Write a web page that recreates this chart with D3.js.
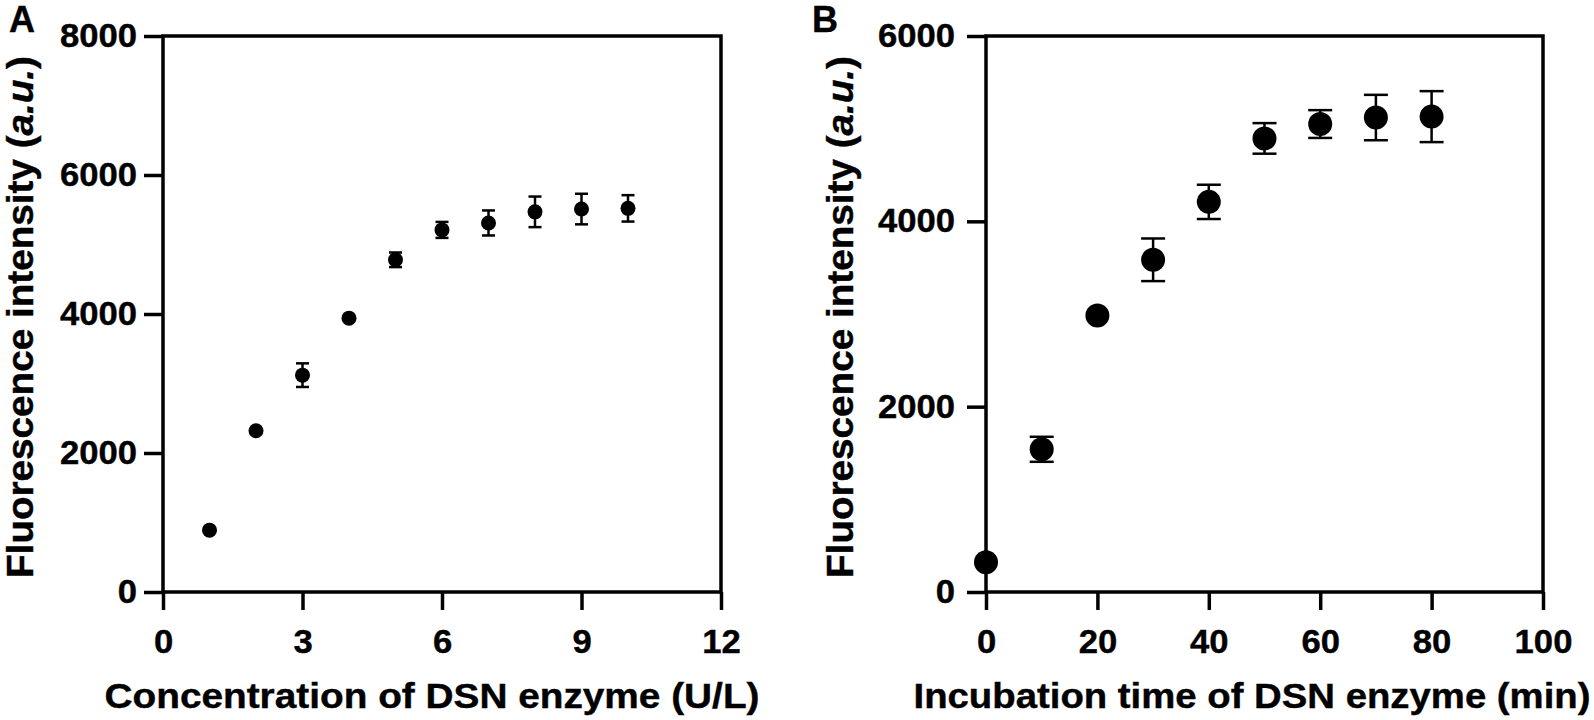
<!DOCTYPE html>
<html>
<head>
<meta charset="utf-8">
<script src="https://cdn.jsdelivr.net/npm/d3@7"></script>
<style>
  html, body { margin: 0; padding: 0; background: #fff; }
  svg { display: block; }
  text { font-family: "Liberation Sans", Arial, sans-serif; font-weight: bold; fill: #000; }
</style>
</head>
<body>
<svg id="chart" width="1594" height="720"></svg>
<script>
// ---- Data ----
const concA = [1, 2, 3, 4, 5, 6, 7, 8, 9, 10];
const fluorA = [890, 2320, 3120, 3940, 4780, 5210, 5310, 5470, 5510, 5520];
const errA = [0, 0, 170, 0, 105, 115, 180, 220, 220, 190];

const timeB = [0, 10, 20, 30, 40, 50, 60, 70, 80];
const fluorB = [320, 1540, 2985, 3585, 4210, 4895, 5050, 5120, 5130];
const errB = [0, 135, 0, 230, 185, 165, 150, 245, 275];

const xTicksA = [0, 3, 6, 9, 12];
const yTicksA = [0, 2000, 4000, 6000, 8000];
const xTicksB = [0, 20, 40, 60, 80, 100];
const yTicksB = [0, 2000, 4000, 6000];

const panelLabels = ["A", "B"];
const xTitles = ["Concentration of DSN enzyme (U/L)", "Incubation time of DSN enzyme (min)"];
const yTitleMain = "Fluorescence intensity (";
const yTitleItalic = "a.u.";
const yTitleEnd = ")";

// ---- Drawing ----
const svg = d3.select("#chart");

function panel(cfg) {
  const x = d3.scaleLinear().domain(cfg.xDomain).range([cfg.left, cfg.right]);
  const y = d3.scaleLinear().domain(cfg.yDomain).range([cfg.bottom, cfg.top]);
  const g = svg.append("g");
  const sw = 3.5;

  // frame (top and right)
  g.append("path")
    .attr("d", `M${cfg.left},${cfg.top}H${cfg.right}V${cfg.bottom}`)
    .attr("fill", "none").attr("stroke", "#000").attr("stroke-width", sw)
    .attr("stroke-linecap", "square");

  // x axis
  const xa = g.append("g").attr("transform", `translate(0,${cfg.bottom})`)
    .call(d3.axisBottom(x).tickValues(cfg.xTicks).tickSize(18).tickPadding(20).tickFormat(d3.format("d")));
  // y axis
  const ya = g.append("g").attr("transform", `translate(${cfg.left},0)`)
    .call(d3.axisLeft(y).tickValues(cfg.yTicks).tickSize(19).tickPadding(cfg.yPad).tickFormat(d3.format("d")));

  [xa, ya].forEach(a => {
    a.select(".domain").attr("stroke", "#000").attr("stroke-width", sw);
    a.selectAll(".tick line").attr("stroke", "#000").attr("stroke-width", sw);
    a.selectAll(".tick text").attr("font-size", 33).attr("fill", "#000")
      .attr("stroke", "#000").attr("stroke-width", 0.4)
      .style("font-family", '"Liberation Sans", Arial, sans-serif').style("font-weight", "bold");
  });
  [xa, ya].forEach(a => a.selectAll(".tick text").each(function () {
    const w = this.getComputedTextLength();
    d3.select(this).attr("textLength", w * 1.05).attr("lengthAdjust", "spacingAndGlyphs");
  }));
  ya.select(".domain").attr("d", `M0,${cfg.bottom}V${cfg.top}`);
  xa.select(".domain").attr("d", `M${cfg.left},0H${cfg.right}`);

  // error bars
  const data = cfg.xs.map((v, i) => ({ x: v, y: cfg.ys[i], e: cfg.es[i] }));
  const eb = g.append("g").selectAll("g").data(data.filter(d => d.e > 0)).join("g");
  eb.append("line")
    .attr("x1", d => x(d.x)).attr("x2", d => x(d.x))
    .attr("y1", d => y(d.y + d.e)).attr("y2", d => y(d.y - d.e))
    .attr("stroke", "#000").attr("stroke-width", 2.5);
  eb.append("line")
    .attr("x1", d => x(d.x) - cfg.cap / 2).attr("x2", d => x(d.x) + cfg.cap / 2)
    .attr("y1", d => y(d.y + d.e)).attr("y2", d => y(d.y + d.e))
    .attr("stroke", "#000").attr("stroke-width", 2.5);
  eb.append("line")
    .attr("x1", d => x(d.x) - cfg.cap / 2).attr("x2", d => x(d.x) + cfg.cap / 2)
    .attr("y1", d => y(d.y - d.e)).attr("y2", d => y(d.y - d.e))
    .attr("stroke", "#000").attr("stroke-width", 2.5);

  // points
  g.append("g").selectAll("circle").data(data).join("circle")
    .attr("cx", d => x(d.x)).attr("cy", d => y(d.y)).attr("r", cfg.r).attr("fill", "#000");

  // x title
  g.append("text")
    .attr("x", cfg.xTitleX).attr("y", 708)
    .attr("text-anchor", "middle").attr("font-size", 35)
    .attr("stroke", "#000").attr("stroke-width", 0.4)
    .attr("textLength", cfg.xTitleLen).attr("lengthAdjust", "spacingAndGlyphs")
    .text(cfg.xTitle);

  // y title
  const yt = g.append("text")
    .attr("transform", `translate(${cfg.yTitleX},${(cfg.top + cfg.bottom) / 2 + 3}) rotate(-90)`)
    .attr("text-anchor", "middle").attr("font-size", 36)
    .attr("stroke", "#000").attr("stroke-width", 0.4)
    .attr("textLength", 522).attr("lengthAdjust", "spacingAndGlyphs");
  yt.append("tspan").text(yTitleMain);
  yt.append("tspan").attr("font-style", "italic").text(yTitleItalic);
  yt.append("tspan").text(yTitleEnd);

  // panel label
  g.append("text").attr("x", cfg.labelX).attr("y", 32).attr("font-size", 36)
    .attr("stroke", "#000").attr("stroke-width", 0.4).text(cfg.label);
}

panel({
  xDomain: [0, 12], yDomain: [0, 8000], left: 163, right: 721, top: 36, bottom: 592,
  xTicks: xTicksA, yTicks: yTicksA, yPad: 7,
  xs: concA, ys: fluorA, es: errA, r: 7.5, cap: 13,
  xTitle: xTitles[0], xTitleX: 432, xTitleLen: 655, yTitleX: 33,
  label: panelLabels[0], labelX: 9
});
panel({
  xDomain: [0, 100], yDomain: [0, 6000], left: 986, right: 1543, top: 36, bottom: 592,
  xTicks: xTicksB, yTicks: yTicksB, yPad: 12,
  xs: timeB, ys: fluorB, es: errB, r: 12, cap: 24,
  xTitle: xTitles[1], xTitleX: 1252, xTitleLen: 677, yTitleX: 853,
  label: panelLabels[1], labelX: 812
});
</script>
</body>
</html>
